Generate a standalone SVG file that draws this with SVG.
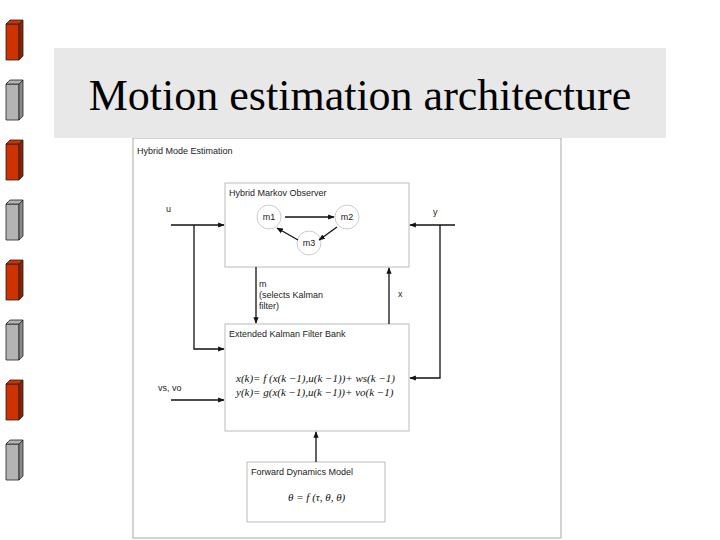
<svg xmlns="http://www.w3.org/2000/svg" width="720" height="540" viewBox="0 0 720 540">
<style>
.s{font-family:"Liberation Sans",Arial,sans-serif;font-size:9px;fill:#222}
.m{font-family:"Liberation Serif","Times New Roman",serif;font-size:11px;font-style:italic;fill:#111}
.box{fill:#fff;stroke:#bbb;stroke-width:1}
.ln{stroke:#111;stroke-width:1.3;fill:none}
.c{fill:#fff;stroke:#ccc}
.r{fill:#cc3300;stroke:#222;stroke-width:0.8}
.rd{fill:#8a2200;stroke:#222;stroke-width:0.8}
.g{fill:#b3b3b3;stroke:#222;stroke-width:0.8}
.gd{fill:#888;stroke:#222;stroke-width:0.8}
</style>
<defs>
<marker id="a" viewBox="0 0 10 10" refX="9" refY="5" markerWidth="5" markerHeight="5" orient="auto"><path d="M0,1L10,5L0,9z" fill="#111"/></marker>
</defs>
<g id="bars">
<g transform="translate(0,0)"><path class="r" d="M6,24h13v36h-13z"/><path class="r" d="M6,24l4,-4h13l-4,4z"/><path class="rd" d="M19,24l4,-4v36l-4,4z"/></g>
<g transform="translate(0,60)"><path class="g" d="M6,24h13v36h-13z"/><path class="g" d="M6,24l4,-4h13l-4,4z"/><path class="gd" d="M19,24l4,-4v36l-4,4z"/></g>
<g transform="translate(0,120)"><path class="r" d="M6,24h13v36h-13z"/><path class="r" d="M6,24l4,-4h13l-4,4z"/><path class="rd" d="M19,24l4,-4v36l-4,4z"/></g>
<g transform="translate(0,180)"><path class="g" d="M6,24h13v36h-13z"/><path class="g" d="M6,24l4,-4h13l-4,4z"/><path class="gd" d="M19,24l4,-4v36l-4,4z"/></g>
<g transform="translate(0,240)"><path class="r" d="M6,24h13v36h-13z"/><path class="r" d="M6,24l4,-4h13l-4,4z"/><path class="rd" d="M19,24l4,-4v36l-4,4z"/></g>
<g transform="translate(0,300)"><path class="g" d="M6,24h13v36h-13z"/><path class="g" d="M6,24l4,-4h13l-4,4z"/><path class="gd" d="M19,24l4,-4v36l-4,4z"/></g>
<g transform="translate(0,360)"><path class="r" d="M6,24h13v36h-13z"/><path class="r" d="M6,24l4,-4h13l-4,4z"/><path class="rd" d="M19,24l4,-4v36l-4,4z"/></g>
<g transform="translate(0,420)"><path class="g" d="M6,24h13v36h-13z"/><path class="g" d="M6,24l4,-4h13l-4,4z"/><path class="gd" d="M19,24l4,-4v36l-4,4z"/></g>
</g>
<g id="frame"><rect x="133" y="138" width="428" height="400" fill="#fff" stroke="#aaa"/>
<text class="s" x="137" y="154">Hybrid Mode Estimation</text></g>
<g id="title"><rect x="54" y="48" width="612" height="90" fill="#e8e8e8"/>
<text x="360" y="110" text-anchor="middle" font-family="Liberation Serif,'Times New Roman',serif" font-size="44" fill="#000">Motion estimation architecture</text></g>
<g id="hmo"><rect class="box" x="225" y="183" width="184" height="84"/>
<text class="s" x="229" y="196">Hybrid Markov Observer</text>
<circle class="c" cx="269" cy="217" r="12"/><text class="s" x="269" y="220" text-anchor="middle">m1</text>
<circle class="c" cx="347" cy="217" r="12"/><text class="s" x="347" y="220" text-anchor="middle">m2</text>
<circle class="c" cx="309" cy="243" r="12"/><text class="s" x="309" y="246" text-anchor="middle">m3</text></g>
<g id="ekf"><rect class="box" x="225" y="324" width="184" height="107"/>
<text class="s" x="229" y="337">Extended Kalman Filter Bank</text>
<text class="m" x="236" y="382">x(k)= f (x(k −1),u(k −1))+ ws(k −1)</text>
<text class="m" x="236" y="396">y(k)= g(x(k −1),u(k −1))+ vo(k −1)</text></g>
<g id="fdm"><rect class="box" x="247" y="462" width="138" height="60"/>
<text class="s" x="251" y="475">Forward Dynamics Model</text>
<text class="m" x="288" y="501">θ = f (τ, θ, θ)</text></g>
<g id="connectors">
<line class="ln" x1="171" y1="225" x2="224" y2="225" marker-end="url(#a)"/>
<polyline class="ln" points="194,225 194,349 224,349" marker-end="url(#a)"/>
<line class="ln" x1="455" y1="225" x2="410" y2="225" marker-end="url(#a)"/>
<polyline class="ln" points="440,225 440,378 410,378" marker-end="url(#a)"/>
<line class="ln" x1="256" y1="267" x2="256" y2="323" marker-end="url(#a)"/>
<line class="ln" x1="389" y1="324" x2="389" y2="268" marker-end="url(#a)"/>
<line class="ln" x1="171" y1="400" x2="224" y2="400" marker-end="url(#a)"/>
<line class="ln" x1="316" y1="462" x2="316" y2="432" marker-end="url(#a)"/>
<line class="ln" stroke-width="1" x1="285" y1="217" x2="334" y2="217" marker-end="url(#a)"/>
<line class="ln" stroke-width="1" x1="337" y1="227" x2="319" y2="240" marker-end="url(#a)"/>
<line class="ln" stroke-width="1" x1="298" y1="240" x2="277" y2="228" marker-end="url(#a)"/>
</g>
<g id="labels">
<text class="s" x="166" y="212">u</text>
<text class="s" x="433" y="215">y</text>
<text class="s" x="259" y="287">m</text>
<text class="s" x="259" y="298">(selects Kalman</text>
<text class="s" x="259" y="309">filter)</text>
<text class="s" x="398" y="297">x</text>
<text class="s" x="158" y="391">vs, vo</text>
</g>
</svg>
